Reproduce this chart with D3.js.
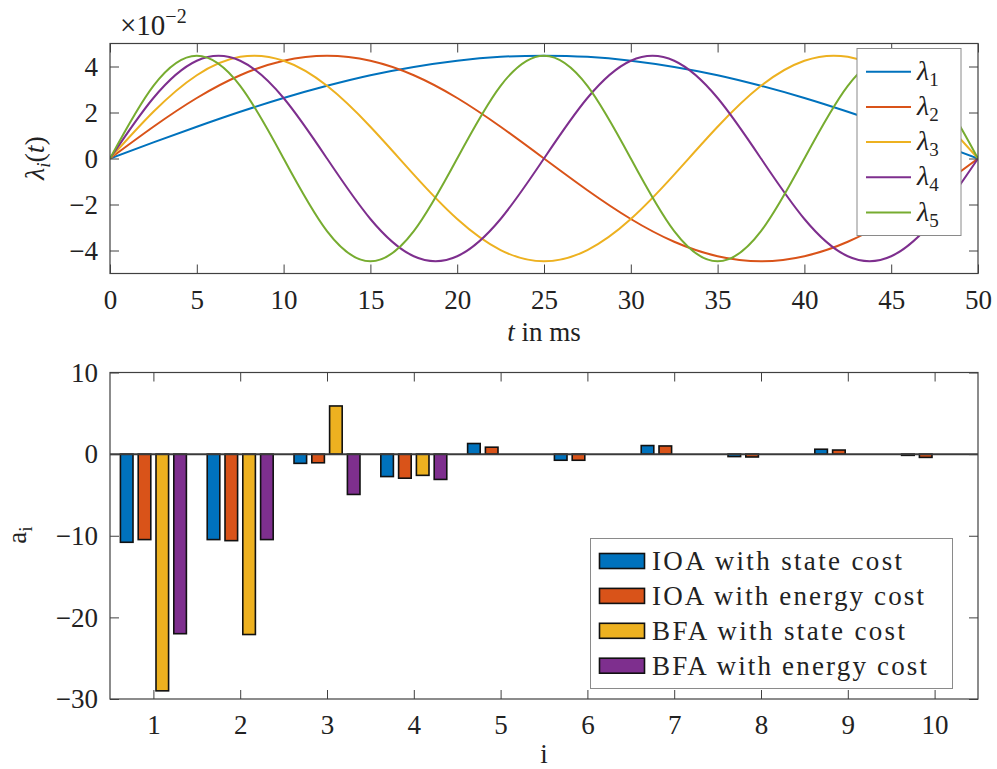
<!DOCTYPE html>
<html>
<head>
<meta charset="utf-8">
<script src="https://cdn.jsdelivr.net/npm/d3@7/dist/d3.min.js"></script>
<style>
  html, body { margin: 0; padding: 0; background: #fff; }
  svg { display: block; }
  svg text { font-family: "Liberation Serif", "Times New Roman", Tinos, Times, "Noto Serif", "DejaVu Serif", serif; }
</style>
</head>
<body>
<svg id="fig" width="997" height="769"></svg>
<script>
// ---- basis functions lambda_i(t), values in units of 1e-2 ----
const tMs = [0, 2.5, 5, 7.5, 10, 12.5, 15, 17.5, 20, 22.5, 25, 27.5, 30, 32.5, 35, 37.5, 40, 42.5, 45, 47.5, 50];
const lambda1 = [0, 0.70, 1.38, 2.03, 2.63, 3.16, 3.62, 3.98, 4.25, 4.42, 4.47, 4.42, 4.25, 3.98, 3.62, 3.16, 2.63, 2.03, 1.38, 0.70, 0];
const lambda2 = [0, 1.38, 2.63, 3.62, 4.25, 4.47, 4.25, 3.62, 2.63, 1.38, 0, -1.38, -2.63, -3.62, -4.25, -4.47, -4.25, -3.62, -2.63, -1.38, 0];
const lambda3 = [0, 2.03, 3.62, 4.42, 4.25, 3.16, 1.38, -0.70, -2.63, -3.98, -4.47, -3.98, -2.63, -0.70, 1.38, 3.16, 4.25, 4.42, 3.62, 2.03, 0];
const lambda4 = [0, 2.63, 4.25, 4.25, 2.63, 0, -2.63, -4.25, -4.25, -2.63, 0, 2.63, 4.25, 4.25, 2.63, 0, -2.63, -4.25, -4.25, -2.63, 0];
const lambda5 = [0, 3.16, 4.47, 3.16, 0, -3.16, -4.47, -3.16, 0, 3.16, 4.47, 3.16, 0, -3.16, -4.47, -3.16, 0, 3.16, 4.47, 3.16, 0];
const lambdaNames = ["1", "2", "3", "4", "5"];
const topXTicks = [0, 5, 10, 15, 20, 25, 30, 35, 40, 45, 50];
const topYTicks = [-4, -2, 0, 2, 4];

// ---- coefficients a_i ----
const coeffIndex = [1, 2, 3, 4, 5, 6, 7, 8, 9, 10];
const ioaState  = [-10.8, -10.47, -1.13, -2.75, 1.3, -0.75, 1.05, -0.3, 0.6, -0.15];
const ioaEnergy = [-10.47, -10.6, -1.06, -2.95, 0.85, -0.75, 1.0, -0.35, 0.5, -0.4];
const bfaState  = [-29.0, -22.1, 5.9, -2.6, 0, 0, 0, 0, 0, 0];
const bfaEnergy = [-22.0, -10.47, -4.94, -3.1, 0, 0, 0, 0, 0, 0];
const barNames = ["IOA with state cost", "IOA with energy cost", "BFA with state cost", "BFA with energy cost"];
const botYTicks = [-30, -20, -10, 0, 10];

const lineColors = ["#0072BD", "#D95319", "#EDB120", "#7E2F8E", "#77AC30"];
const barColors  = ["#0072BD", "#D95319", "#EDB120", "#7E2F8E"];
const axisColor = "#404040";
const SERIF = '"Liberation Serif", "Times New Roman", Tinos, Times, "Noto Serif", "DejaVu Serif", serif';
const fmt = d3.format("d");

const svg = d3.select("#fig");

// ===================== upper axes =====================
const L = 110, R = 978;
const x1 = d3.scaleLinear().domain([0, 50]).range([L, R]);
const y1 = d3.scaleLinear().domain([-5, 5]).range([273.5, 43.5]);

const gTop = svg.append("g");
const clipTop = svg.append("clipPath").attr("id", "clipTop");
clipTop.append("rect").attr("x", L).attr("y", 43.5).attr("width", R - L).attr("height", 230);

const series = [lambda1, lambda2, lambda3, lambda4, lambda5];
const line = d3.line()
  .x((d, i) => x1(tMs[i]))
  .y(d => y1(d))
  .curve(d3.curveNatural);

gTop.append("g").attr("clip-path", "url(#clipTop)")
  .selectAll("path").data(series).join("path")
  .attr("d", line)
  .attr("fill", "none")
  .attr("stroke", (d, i) => lineColors[i])
  .attr("stroke-width", 2);

// axes with inward ticks on all four sides
function boxAxes(g, xs, ys, xTicks, yTicks, xFmt, yFmt, tickLen) {
  const [xa, xb] = xs.range();
  const [ya, yb] = ys.range(); // ya bottom, yb top
  g.append("g").attr("transform", `translate(0,${ya})`)
    .call(d3.axisBottom(xs).tickValues(xTicks).tickSize(-tickLen).tickPadding(tickLen + 7).tickFormat(xFmt))
    .call(a => a.select(".domain").remove());
  g.append("g").attr("transform", `translate(0,${yb})`)
    .call(d3.axisTop(xs).tickValues(xTicks).tickSize(-tickLen).tickFormat(""))
    .call(a => a.select(".domain").remove());
  g.append("g").attr("transform", `translate(${xa},0)`)
    .call(d3.axisLeft(ys).tickValues(yTicks).tickSize(-tickLen).tickPadding(tickLen + 3).tickFormat(yFmt))
    .call(a => a.select(".domain").remove());
  g.append("g").attr("transform", `translate(${xb},0)`)
    .call(d3.axisRight(ys).tickValues(yTicks).tickSize(-tickLen).tickFormat(""))
    .call(a => a.select(".domain").remove());
  g.selectAll("g").attr("font-family", SERIF);
  g.selectAll(".tick line").attr("stroke", axisColor).attr("stroke-width", 1);
  g.selectAll(".tick text").attr("fill", "#222").attr("font-size", 27).attr("font-family", SERIF);
  g.append("rect").attr("x", xa).attr("y", yb).attr("width", xb - xa).attr("height", ya - yb)
    .attr("fill", "none").attr("stroke", axisColor).attr("stroke-width", 1.2);
}

const gTopAxes = svg.append("g");
boxAxes(gTopAxes, x1, y1, topXTicks, topYTicks, fmt, d => (d < 0 ? "\u2212" : "") + Math.abs(d), 9);

// exponent marker
const expT = svg.append("text").attr("x", 120).attr("y", 35).attr("font-size", 29).attr("fill", "#222");
expT.append("tspan").text("\u00d710");
expT.append("tspan").attr("font-size", 20).attr("dy", -12).text("\u22122");

// axis labels
const ylTop = svg.append("text")
  .attr("transform", "translate(44,158) rotate(-90)")
  .attr("text-anchor", "middle").attr("font-size", 28).attr("fill", "#222");
ylTop.append("tspan").attr("font-style", "italic").text("\u03bb");
ylTop.append("tspan").attr("font-style", "italic").attr("font-size", 19).attr("dy", 6).text("i");
ylTop.append("tspan").attr("dy", -6).text("(");
ylTop.append("tspan").attr("font-style", "italic").text("t");
ylTop.append("tspan").text(")");

const xlTop = svg.append("text").attr("x", 544).attr("y", 341)
  .attr("text-anchor", "middle").attr("font-size", 27).attr("fill", "#222");
xlTop.append("tspan").attr("font-style", "italic").text("t");
xlTop.append("tspan").text(" in ms");

// legend (upper)
const lgTop = svg.append("g");
lgTop.append("rect").attr("x", 857).attr("y", 48.5).attr("width", 104).attr("height", 187)
  .attr("fill", "#fff").attr("stroke", "#8a8a8a").attr("stroke-width", 1);
lambdaNames.forEach((nm, i) => {
  const ry = 71.7 + i * 35.2;
  lgTop.append("line").attr("x1", 866).attr("x2", 911).attr("y1", ry).attr("y2", ry)
    .attr("stroke", lineColors[i]).attr("stroke-width", 2);
  const tx = lgTop.append("text").attr("x", 917).attr("y", ry + 8).attr("font-size", 28).attr("fill", "#222");
  tx.append("tspan").attr("font-style", "italic").text("\u03bb");
  tx.append("tspan").attr("font-size", 19).attr("dy", 6).text(nm);
});

// ===================== lower axes =====================
const x2 = d3.scaleLinear().domain([0.5, 10.5]).range([L, R]);
const y2 = d3.scaleLinear().domain([-30, 10]).range([699, 372.5]);

const allBars = [ioaState, ioaEnergy, bfaState, bfaEnergy];
const slot = 0.205, barW = 0.145;
const gBars = svg.append("g");
allBars.forEach((vals, j) => {
  gBars.append("g").selectAll("rect").data(vals).join("rect")
    .attr("x", (v, i) => x2(coeffIndex[i] + (j - 1.5) * slot - barW / 2))
    .attr("width", x2(barW) - x2(0))
    .attr("y", v => y2(Math.max(0, v)))
    .attr("height", v => Math.abs(y2(v) - y2(0)))
    .attr("fill", barColors[j])
    .attr("stroke", "#111")
    .attr("stroke-width", 1.6);
});
// baseline at zero
svg.append("line").attr("x1", L).attr("x2", R).attr("y1", y2(0)).attr("y2", y2(0))
  .attr("stroke", "#3a3a3a").attr("stroke-width", 2);

const gBotAxes = svg.append("g");
boxAxes(gBotAxes, x2, y2, coeffIndex, botYTicks, fmt, d => (d < 0 ? "\u2212" : "") + Math.abs(d), 9);

// axis labels
const ylBot = svg.append("text")
  .attr("transform", "translate(26,535) rotate(-90)")
  .attr("text-anchor", "middle").attr("font-size", 27).attr("fill", "#222");
ylBot.append("tspan").text("a");
ylBot.append("tspan").attr("font-size", 19).attr("dy", 6).text("i");

svg.append("text").attr("x", 544).attr("y", 763).attr("text-anchor", "middle")
  .attr("font-size", 27).attr("fill", "#222").text("i");

// legend (lower)
const lgBot = svg.append("g");
lgBot.append("rect").attr("x", 590.5).attr("y", 538.5).attr("width", 362).attr("height", 150)
  .attr("fill", "#fff").attr("stroke", "#8a8a8a").attr("stroke-width", 1);
const textWidths = [250, 272, 253, 275];
barNames.forEach((nm, j) => {
  const ry = 561 + j * 34.9;
  lgBot.append("rect").attr("x", 599.5).attr("y", ry - 7.5).attr("width", 45).attr("height", 15)
    .attr("fill", barColors[j]).attr("stroke", "#111").attr("stroke-width", 1.6);
  lgBot.append("text").attr("x", 652).attr("y", ry + 9).attr("font-size", 27).attr("fill", "#222")
    .attr("textLength", textWidths[j]).attr("lengthAdjust", "spacing").text(nm);
});
</script>
</body>
</html>
